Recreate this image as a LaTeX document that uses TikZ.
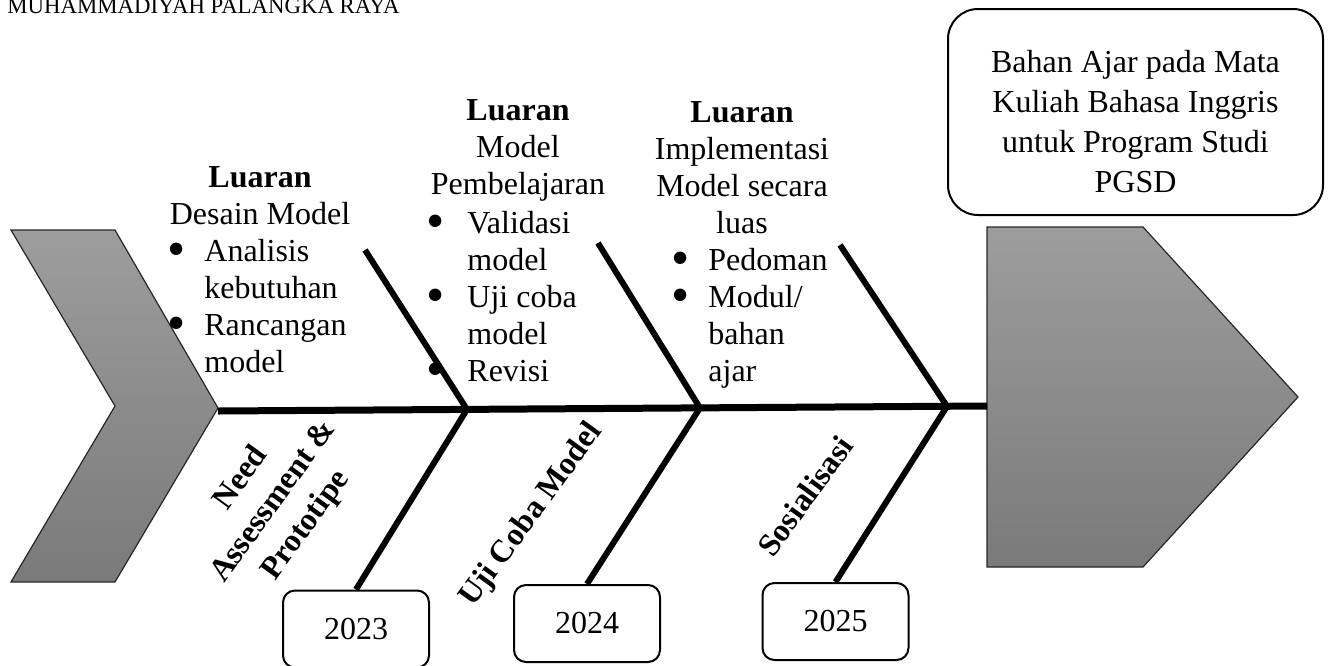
\documentclass[tikz,border=0pt]{standalone}
\usepackage{fontspec}
\setmainfont{Liberation Serif}
\newcommand\blt[1]{\llap{\raisebox{-2.5pt}{\fontsize{26}{26}\selectfont\textbullet}\hspace{#1}}}
\begin{document}
\begin{tikzpicture}[x=0.5pt,y=-0.5pt,
  bone/.style={line width=3pt},
  spine/.style={line width=3.5pt},
  fishshape/.style={draw=black!85, line width=0.6pt, top color={rgb,255:red,157;green,157;blue,157}, bottom color={rgb,255:red,122;green,122;blue,122}},
  yearbox/.style={draw, line width=1pt, rounded corners=6pt, minimum width=73pt, minimum height=38.5pt, inner sep=0pt, font=\fontsize{16}{18.5}\selectfont},
  goalbox/.style={draw, line width=1pt, rounded corners=15pt, minimum width=187.5pt, minimum height=103pt, inner sep=0pt},
  headtxt/.style={align=center, anchor=north, inner sep=0pt, font=\fontsize{16}{18.5}\selectfont},
  listtxt/.style={align=left, anchor=north west, inner sep=0pt, font=\fontsize{16}{18.5}\selectfont},
  rotlabel/.style={rotate=54, align=center, inner sep=0pt, font=\bfseries\fontsize{16}{20}\selectfont}
]
\useasboundingbox (0,0) rectangle (1332,665);
\clip (0,0) rectangle (1332,665);

% title fragment
\node[anchor=base west, inner sep=0pt, font=\fontsize{11.4}{13}\selectfont] (title) at (7,13.5) {MUHAMMADIYAH PALANGKA RAYA};

% tail chevron and head pentagon
\draw[fishshape] (11,230) -- (115,230) -- (218,408) -- (115,582) -- (11,582) -- (115,406) -- cycle;
\draw[fishshape] (987,227) -- (1143,227) -- (1298,397) -- (1143,567) -- (987,567) -- cycle;

\coordinate (tail) at (218,411);
\coordinate (head) at (987,406);
\coordinate (j1) at (467,409.4);
\coordinate (j2) at (700,407.9);
\coordinate (j3) at (947,406.3);
\coordinate (u1) at (365,250);
\coordinate (u2) at (598,243);
\coordinate (u3) at (840,245);

% year boxes
\node[yearbox] (y1) at (356,629) {2023};
\node[yearbox] (y2) at (587,623.5) {2024};
\node[yearbox] (y3) at (835.5,621.5) {2025};

% goal box
\node[goalbox] (goal) at (1135.5,112) {};
\node[headtxt, font=\fontsize{16}{20}\selectfont] (goaltext) at (1135.5,44) {\strut Bahan Ajar pada Mata\\Kuliah Bahasa Inggris\\untuk Program Studi\\PGSD};

% bones
\draw[bone] (u1) -- (j1);
\draw[bone] (u2) -- (j2);
\draw[bone] (u3) -- (j3);
\draw[bone] (j1) -- (y1.north);
\draw[bone] (j2) -- (y2.north);
\draw[bone] (j3) -- (y3.north);
\draw[spine] (tail) -- (head);

% upper texts
\node[headtxt] (h1) at (260,161) {\strut\textbf{Luaran}\\Desain Model};
\node[listtxt] (l1) at (204,235) {\strut\blt{9.5pt}Analisis\\kebutuhan\\\blt{9.5pt}Rancangan\\model};

\node[headtxt] (h2) at (518,94) {\strut\textbf{Luaran}\\Model\\Pembelajaran};
\node[listtxt] (l2) at (467,207) {\strut\blt{11.5pt}Validasi\\model\\\blt{11.5pt}Uji coba\\model\\\blt{11.5pt}Revisi};

\node[headtxt] (h3) at (742,96) {\strut\textbf{Luaran}\\Implementasi\\Model secara\\luas};
\node[listtxt] (l3) at (708,244) {\strut\blt{9.5pt}Pedoman\\\blt{9.5pt}Modul/\\bahan\\ajar};

% lower rotated labels
\node[rotlabel] (r1) at (274,502) {Need\\Assessment \&\\Prototipe};
\node[rotlabel] (r2) at (532,515) {Uji Coba Model};
\node[rotlabel] (r3) at (805,496) {Sosialisasi};
\end{tikzpicture}
\end{document}
